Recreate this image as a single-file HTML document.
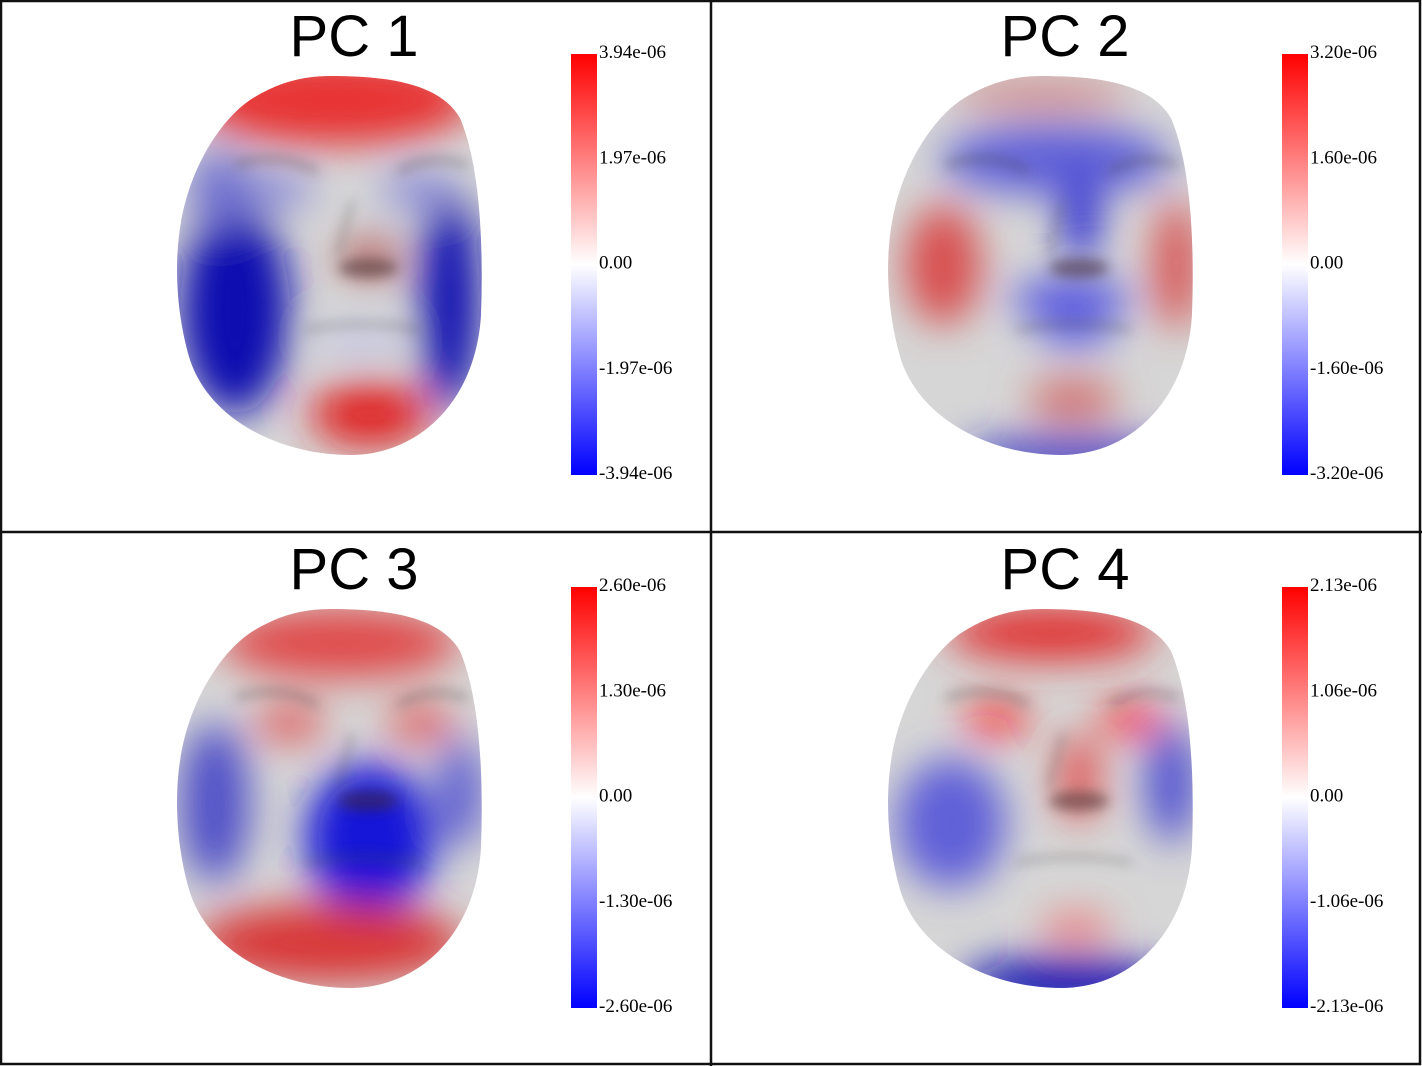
<!DOCTYPE html>
<html><head><meta charset="utf-8"><style>
html,body{margin:0;padding:0;background:#fff}
svg{display:block}
.title{font-family:"Liberation Sans",Arial,sans-serif;font-size:58px;fill:#000}
.tick{font-family:"Liberation Serif","Times New Roman",serif;font-size:19px;fill:#000}
</style></head><body>
<svg id="chart" width="1422" height="1066" viewBox="0 0 1422 1066" xmlns="http://www.w3.org/2000/svg">
<defs>
<linearGradient id="cbar" x1="0" y1="0" x2="0" y2="1">
<stop offset="0" stop-color="#ff0000"/><stop offset="0.5" stop-color="#ffffff"/><stop offset="1" stop-color="#0000ff"/>
</linearGradient>
<filter id="blur" x="-50%" y="-50%" width="200%" height="200%"><feGaussianBlur stdDeviation="20"/></filter>
<filter id="blur2" x="-50%" y="-50%" width="200%" height="200%"><feGaussianBlur stdDeviation="6"/></filter>
<path id="faceShape" d="M330 76 C390 76 440 84 460 118 C478 160 484 230 481 315 C476 400 420 455 350 455 C280 455 210 420 190 360 C175 310 175 260 180 228 C188 172 218 122 250 100 C275 84 300 76 330 76 Z"/>
<clipPath id="faceClip"><use href="#faceShape"/></clipPath>
</defs>
<g id="panels"></g>
<rect x="1" y="1" width="1419" height="1063" fill="none" stroke="#111" stroke-width="2.5"/>
<line x1="711" y1="0" x2="711" y2="1066" stroke="#111" stroke-width="2.5"/>
<line x1="0" y1="532" x2="1422" y2="532" stroke="#111" stroke-width="2.5"/>
</svg>
<script>
const titles = ["PC 1","PC 2","PC 3","PC 4"];
const maxValues = ["3.94e-06","3.20e-06","2.60e-06","2.13e-06"];
const halfValues = ["1.97e-06","1.60e-06","1.30e-06","1.06e-06"];
const tickFractions = [1, 0.5, 0, -0.5, -1];
// blobs per panel: [cx, cy, rx, ry, color] in panel-local coords (PC1 frame)
const blobs = [
 [[335,100,140,45,"#e83030"],[235,310,55,105,"#1010b0"],[450,300,30,110,"#1010b0"],[370,415,60,32,"#e02020"],[270,190,45,18,"#8888d8"],[420,190,40,18,"#8888d8"],[370,258,30,18,"#b05050"],[360,340,45,12,"#c0c0e8"],[220,190,30,40,"#7070d0"]],
 [[232,265,38,60,"#d85050"],[465,265,22,65,"#d85050"],[345,160,115,35,"#6060d8"],[370,215,18,45,"#1515d0"],[360,300,60,22,"#5555e0"],[365,335,40,10,"#4a4ae0"],[362,400,45,20,"#d06868"],[360,455,110,16,"#2020c0"],[330,95,90,14,"#d08080"]],
 [[340,110,120,35,"#e04848"],[290,190,35,17,"#e05050"],[420,190,33,17,"#e05050"],[370,305,65,75,"#1818d8"],[215,270,35,80,"#5050c8"],[460,260,22,55,"#5858d0"],[330,410,135,40,"#d83838"]],
 [[340,100,105,28,"#e03030"],[285,187,32,14,"#ff1010"],[420,187,32,14,"#ff1010"],[368,245,20,45,"#e05050"],[240,290,55,65,"#6060d8"],[460,250,25,60,"#5050d0"],[355,450,105,25,"#1010b0"],[365,395,35,14,"#f07070"]]
];
const offs = [[0,0],[711,0],[0,533],[711,533]];
const cbarX = [571,1282,571,1282];
const ns = "http://www.w3.org/2000/svg";
const root = document.getElementById("panels");
function mk(tag, attrs, parent){const e=document.createElementNS(ns,tag);for(const k in attrs)e.setAttribute(k,attrs[k]);parent.appendChild(e);return e;}
function yScale(f, top){return top + (1-f)/2*421;}
for(let i=0;i<4;i++){
  const [ox,oy]=offs[i];
  const g=mk("g",{},root);
  
  
  const t=mk("text",{x:ox+354,y:oy+56,"text-anchor":"middle",class:"title"},g);
  t.textContent=titles[i];
  
  
  const fg=mk("g",{transform:"translate("+ox+","+oy+")"},g);
  
  
  const cg=mk("g",{"clip-path":"url(#faceClip)"},fg);
  mk("use",{href:"#faceShape",fill:"#d6d6d6"},cg);
  const bg=mk("g",{filter:"url(#blur)"},cg);
  for(const b of blobs[i]) mk("ellipse",{cx:b[0],cy:b[1],rx:b[2],ry:b[3],fill:b[4]},bg);
  const sg=mk("g",{filter:"url(#blur2)",opacity:"0.5"},cg);
  mk("ellipse",{cx:368,cy:268,rx:30,ry:10,fill:"#402828"},sg);
  mk("path",{d:"M305 330 Q360 318 420 330",stroke:"#505050","stroke-width":"4",fill:"none"},sg);
  mk("path",{d:"M235 165 Q280 150 318 172 M398 172 Q430 152 468 165",stroke:"#404040","stroke-width":"5",fill:"none"},sg);
  mk("path",{d:"M352 200 L338 255",stroke:"#505050","stroke-width":"4",fill:"none"},sg);
  const top=oy+54, cx=cbarX[i];
  const cb=mk("rect",{x:cx,y:top,width:26,height:421,fill:"url(#cbar)"},g);
  
  
  const labels=[maxValues[i],halfValues[i],"0.00","-"+halfValues[i],"-"+maxValues[i]];
  for(let k=0;k<tickFractions.length;k++){
    const tl=mk("text",{x:cx+28,y:yScale(tickFractions[k],top)+4,class:"tick"},g);
    tl.textContent=labels[k];
    
    
  }
}
</script>
</body></html>
